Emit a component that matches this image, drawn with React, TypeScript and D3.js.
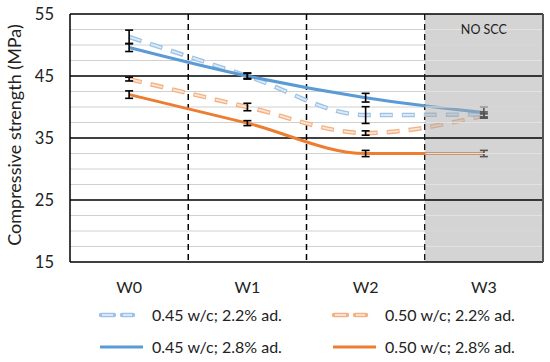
import { useEffect, useRef } from 'react';
import * as d3 from 'd3';

// Data
const categories = ['W0', 'W1', 'W2', 'W3'];
const s45a = [51.3, 45.0, 38.7, 38.8]; // 0.45 w/c; 2.2% ad.
const s45b = [49.6, 45.0, 41.5, 39.1]; // 0.45 w/c; 2.8% ad.
const s50a = [44.5, 40.0, 35.8, 38.6]; // 0.50 w/c; 2.2% ad.
const s50b = [42.0, 37.4, 32.5, 32.5]; // 0.50 w/c; 2.8% ad.
const e45a = [1.1, 0.4, 1.35, 0.4];
const e45b = [0.65, 0.5, 0.7, 0.9];
const e50a = [0.3, 0.6, 0.35, 0.3];
const e50b = [0.6, 0.4, 0.5, 0.5];
const seriesLabels = ['0.45 w/c; 2.2% ad.', '0.45 w/c; 2.8% ad.', '0.50 w/c; 2.2% ad.', '0.50 w/c; 2.8% ad.'];
const yTicks = [15, 25, 35, 45, 55];

export default function App() {
  const svgRef = useRef<SVGSVGElement>(null);

  useEffect(() => {
    if (!svgRef.current) return;
    const svg = d3.select(svgRef.current);
    svg.selectAll('*').remove();

    const left = 70, right = 543, top = 14, bottom = 262;
    const font = 'Lato, "Open Sans", sans-serif';

    const x = d3.scaleBand().domain(categories).range([left, right]);
    const cx = (c: string) => (x(c) as number) + x.bandwidth() / 2;
    const y = d3.scaleLinear().domain([15, 55]).range([bottom, top]);

    const minor = d3.range(17.5, 55, 2.5).filter(v => (v - 5) % 10 !== 0);
    const major = [25, 35, 45];

    // Minor gridlines
    svg.append('g').selectAll('line').data(minor).enter().append('line')
      .attr('x1', left).attr('x2', right)
      .attr('y1', d => y(d)).attr('y2', d => y(d))
      .attr('stroke', '#d0d0d0').attr('stroke-width', 1);

    // Vertical dashed separators
    svg.append('g').selectAll('line').data(categories.slice(1)).enter().append('line')
      .attr('x1', d => x(d) as number).attr('x2', d => x(d) as number)
      .attr('y1', top).attr('y2', bottom)
      .attr('stroke', '#000').attr('stroke-width', 1.5)
      .attr('stroke-dasharray', '6,4');

    const line = d3.line<number>()
      .x((_, i) => cx(categories[i]))
      .y(d => y(d))
      .curve(d3.curveMonotoneX);

    // Dashed series (hollow dashes)
    const dashed = (vals: number[], outer: string, inner: string) => {
      svg.append('path').datum(vals)
        .attr('fill', 'none').attr('stroke', outer).attr('stroke-width', 4.5)
        .attr('stroke-dasharray', '13,9').attr('d', line);
      svg.append('path').datum(vals)
        .attr('fill', 'none').attr('stroke', inner).attr('stroke-width', 1.8)
        .attr('stroke-dasharray', '11,11').attr('stroke-dashoffset', -1).attr('d', line);
    };
    const solid = (vals: number[], color: string) => {
      svg.append('path').datum(vals)
        .attr('fill', 'none').attr('stroke', color).attr('stroke-width', 3)
        .attr('d', line);
    };

    // Major gridlines (under the series)
    svg.append('g').selectAll('line').data(major).enter().append('line')
      .attr('x1', left).attr('x2', right)
      .attr('y1', d => y(d)).attr('y2', d => y(d))
      .attr('stroke', '#000').attr('stroke-width', 1.5);

    dashed(s50a, '#f4b183', '#fbe5d6');
    solid(s50b, '#ed7d31');
    dashed(s45a, '#9dc3e6', '#deebf7');
    solid(s45b, '#5b9bd5');

    // Error bars
    const errs: [number[], number[]][] = [[s45a, e45a], [s45b, e45b], [s50a, e50a], [s50b, e50b]];
    const eg = svg.append('g').attr('stroke', '#000').attr('stroke-width', 1.6);
    errs.forEach(([vals, e]) => {
      vals.forEach((v, i) => {
        const px = cx(categories[i]);
        eg.append('line').attr('x1', px).attr('x2', px).attr('y1', y(v - e[i])).attr('y2', y(v + e[i]));
        [v - e[i], v + e[i]].forEach(w => {
          eg.append('line').attr('x1', px - 4).attr('x2', px + 4).attr('y1', y(w)).attr('y2', y(w));
        });
      });
    });

    // Grey "NO SCC" region on top
    const gx = x('W3') as number;
    svg.append('rect')
      .attr('x', gx).attr('y', top)
      .attr('width', x.bandwidth()).attr('height', bottom - top)
      .attr('fill', '#a9a9a9').attr('fill-opacity', 0.5);
    svg.append('g').selectAll('line').data(minor).enter().append('line')
      .attr('x1', gx + 1).attr('x2', right)
      .attr('y1', d => y(d)).attr('y2', d => y(d))
      .attr('stroke', '#e2e2e2').attr('stroke-width', 1);
    svg.append('g').selectAll('line').data(major).enter().append('line')
      .attr('x1', gx).attr('x2', right)
      .attr('y1', d => y(d)).attr('y2', d => y(d))
      .attr('stroke', '#222').attr('stroke-width', 1.5);
    svg.append('text')
      .attr('x', cx('W3')).attr('y', 34)
      .attr('text-anchor', 'middle').attr('font-family', font).attr('font-size', 12.5)
      .attr('fill', '#222').text('NO SCC');

    // Plot border
    svg.append('line').attr('x1', left).attr('x2', right).attr('y1', top).attr('y2', top)
      .attr('stroke', '#000').attr('stroke-width', 1.5);
    svg.append('line').attr('x1', left).attr('x2', right).attr('y1', bottom).attr('y2', bottom)
      .attr('stroke', '#000').attr('stroke-width', 1.5);
    svg.append('line').attr('x1', left).attr('x2', left).attr('y1', top).attr('y2', bottom)
      .attr('stroke', '#000').attr('stroke-width', 1.5);
    svg.append('line').attr('x1', right).attr('x2', right).attr('y1', top).attr('y2', bottom)
      .attr('stroke', '#555').attr('stroke-width', 2);

    // Y axis labels
    svg.append('g').selectAll('text').data(yTicks).enter().append('text')
      .attr('x', 54).attr('y', d => y(d)).attr('dy', '0.35em')
      .attr('text-anchor', 'end').attr('font-family', font).attr('font-size', 16.5)
      .attr('fill', '#222').text(d => d);

    svg.append('text')
      .attr('transform', `translate(15,135) rotate(-90)`)
      .attr('text-anchor', 'middle').attr('dy', '0.35em')
      .attr('font-family', font).attr('font-size', 18).attr('fill', '#222')
      .text('Compressive strength (MPa)');

    // X axis labels
    svg.append('g').selectAll('text').data(categories).enter().append('text')
      .attr('x', d => cx(d)).attr('y', 287).attr('dy', '0.35em')
      .attr('text-anchor', 'middle').attr('font-family', font).attr('font-size', 16)
      .attr('fill', '#222').text(d => d);

    // Legend
    const legend = [
      { label: seriesLabels[0], x: 100, y: 315, color: '#9dc3e6', inner: '#deebf7', dash: true },
      { label: seriesLabels[2], x: 333, y: 315, color: '#f4b183', inner: '#fbe5d6', dash: true },
      { label: seriesLabels[1], x: 100, y: 347, color: '#5b9bd5', inner: '', dash: false },
      { label: seriesLabels[3], x: 333, y: 347, color: '#ed7d31', inner: '', dash: false },
    ];
    legend.forEach(l => {
      const g = svg.append('g');
      if (l.dash) {
        [[1, 14], [22, 33]].forEach(([a, b]) => {
          g.append('line').attr('x1', l.x + a).attr('x2', l.x + b).attr('y1', l.y).attr('y2', l.y)
            .attr('stroke', l.color).attr('stroke-width', 4.5).attr('stroke-linecap', 'round');
          g.append('line').attr('x1', l.x + a + 1).attr('x2', l.x + b - 1).attr('y1', l.y).attr('y2', l.y)
            .attr('stroke', l.inner).attr('stroke-width', 1.8);
        });
      } else {
        g.append('line').attr('x1', l.x).attr('x2', l.x + 43).attr('y1', l.y).attr('y2', l.y)
          .attr('stroke', l.color).attr('stroke-width', 3);
      }
      g.append('text').attr('x', l.x + 52).attr('y', l.y).attr('dy', '0.35em')
        .attr('font-family', font).attr('font-size', 16).attr('fill', '#222')
        .text(l.label);
    });
  }, []);

  return (
    <svg
      ref={svgRef}
      width={550}
      height={362}
      style={{ position: 'absolute', left: 0, top: 0, background: '#fff' }}
    />
  );
}
